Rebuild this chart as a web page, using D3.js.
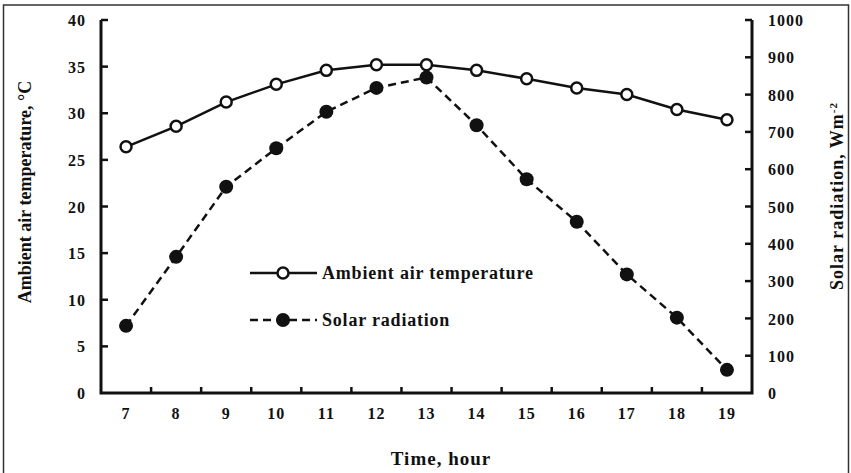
<!DOCTYPE html>
<html>
<head>
<meta charset="utf-8">
<script src="https://cdn.jsdelivr.net/npm/d3@7"></script>
<style>
  body { margin: 0; background: #fff; }
  text { font-family: "Liberation Serif", "Times New Roman", serif; font-weight: bold; fill: #111; }
</style>
</head>
<body>
<svg width="851" height="473"></svg>
<script>
const hours = ['7','8','9','10','11','12','13','14','15','16','17','18','19'];
const temperature = [26.4, 28.6, 31.2, 33.1, 34.6, 35.2, 35.2, 34.6, 33.7, 32.7, 32.0, 30.4, 29.3];
const radiation = [180, 365, 553, 656, 754, 818, 846, 718, 573, 459, 318, 202, 62];
const tempTicks = [0, 5, 10, 15, 20, 25, 30, 35, 40];
const radTicks = [0, 100, 200, 300, 400, 500, 600, 700, 800, 900, 1000];

const svg = d3.select('svg');
const plotL = 101, plotR = 752, plotT = 20, plotB = 393;
const ink = '#111';

// outer frame
svg.append('rect')
    .attr('x', 3.5).attr('y', 5).attr('width', 845).attr('height', 475)
    .attr('fill', 'none').attr('stroke', '#333').attr('stroke-width', 1.5);

const x = d3.scaleBand().domain(hours).range([plotL, plotR]);
const yT = d3.scaleLinear().domain([0, 40]).range([plotB, plotT]);
const yR = d3.scaleLinear().domain([0, 1000]).range([plotB, plotT]);

const styleAxis = g => {
    g.select('.domain').remove();
    g.selectAll('.tick line').remove();
    g.selectAll('.tick text').style('font-size', '16px').style('letter-spacing', '1px');
};

// left axis labels
svg.append('g')
    .attr('transform', `translate(${plotL},0)`)
    .call(d3.axisLeft(yT).tickValues(tempTicks).tickSize(0).tickPadding(15))
    .call(styleAxis)
    .call(g => g.selectAll('.tick text').attr('dy', '0.35em'));

// right axis labels
svg.append('g')
    .attr('transform', `translate(${plotR},0)`)
    .call(d3.axisRight(yR).tickValues(radTicks).tickFormat(d3.format('d')).tickSize(0).tickPadding(16))
    .call(styleAxis)
    .call(g => g.selectAll('.tick text').attr('dy', '0.35em'));

// bottom axis labels
svg.append('g')
    .attr('transform', `translate(0,${plotB})`)
    .call(d3.axisBottom(x).tickSize(0).tickPadding(15))
    .call(styleAxis);

// frame lines (left, right, bottom) and inward ticks
svg.append('path')
    .attr('fill', 'none').attr('stroke', ink).attr('stroke-width', 3)
    .attr('d', `M${plotL},${plotT}V${plotB}H${plotR}V${plotT}`);

svg.selectAll('line.lt').data(tempTicks.filter(d => d > 0))
    .enter().append('line').attr('class', 'lt')
    .attr('stroke', ink).attr('stroke-width', 2.5)
    .attr('x1', plotL).attr('x2', plotL + 7)
    .attr('y1', d => yT(d)).attr('y2', d => yT(d));

svg.selectAll('line.rt').data(radTicks.filter(d => d > 0))
    .enter().append('line').attr('class', 'rt')
    .attr('stroke', ink).attr('stroke-width', 2.5)
    .attr('x1', plotR).attr('x2', plotR - 7)
    .attr('y1', d => yR(d)).attr('y2', d => yR(d));

svg.selectAll('line.bt').data(hours.slice(1))
    .enter().append('line').attr('class', 'bt')
    .attr('stroke', ink).attr('stroke-width', 2.5)
    .attr('x1', d => x(d)).attr('x2', d => x(d))
    .attr('y1', plotB).attr('y2', plotB - 6);

const cx = d => x(d) + x.bandwidth() / 2;

// temperature series
svg.append('path')
    .datum(temperature)
    .attr('fill', 'none').attr('stroke', ink).attr('stroke-width', 2.5)
    .attr('d', d3.line().x((d, i) => cx(hours[i])).y(d => yT(d)));

// radiation series
svg.append('path')
    .datum(radiation)
    .attr('fill', 'none').attr('stroke', ink).attr('stroke-width', 2.5)
    .attr('stroke-dasharray', '8,5')
    .attr('d', d3.line().x((d, i) => cx(hours[i])).y(d => yR(d)));

svg.selectAll('circle.temp').data(temperature)
    .enter().append('circle').attr('class', 'temp')
    .attr('cx', (d, i) => cx(hours[i])).attr('cy', d => yT(d)).attr('r', 5.5)
    .attr('fill', '#fff').attr('stroke', ink).attr('stroke-width', 2.5);

svg.selectAll('circle.rad').data(radiation)
    .enter().append('circle').attr('class', 'rad')
    .attr('cx', (d, i) => cx(hours[i])).attr('cy', d => yR(d)).attr('r', 7)
    .attr('fill', ink);

// legend
const legend = svg.append('g');
legend.append('line').attr('x1', 250).attr('x2', 317).attr('y1', 273).attr('y2', 273)
    .attr('stroke', ink).attr('stroke-width', 2.5);
legend.append('circle').attr('cx', 283).attr('cy', 273).attr('r', 5.5)
    .attr('fill', '#fff').attr('stroke', ink).attr('stroke-width', 2.5);
legend.append('text').attr('x', 322).attr('y', 279)
    .style('font-size', '18px').style('letter-spacing', '0.8px')
    .text('Ambient air temperature');
legend.append('line').attr('x1', 250).attr('x2', 317).attr('y1', 320).attr('y2', 320)
    .attr('stroke', ink).attr('stroke-width', 2.5).attr('stroke-dasharray', '8,5');
legend.append('circle').attr('cx', 283).attr('cy', 320).attr('r', 7).attr('fill', ink);
legend.append('text').attr('x', 322).attr('y', 326)
    .style('font-size', '18px').style('letter-spacing', '0.8px')
    .text('Solar radiation');

// axis titles
svg.append('text')
    .attr('transform', 'translate(31,192) rotate(-90)')
    .attr('text-anchor', 'middle')
    .style('font-size', '18px')
    .text('Ambient air temperature, °C');

const rt = svg.append('text')
    .attr('transform', 'translate(843,196) rotate(-90)')
    .attr('text-anchor', 'middle')
    .style('font-size', '18px').style('letter-spacing', '1px');
rt.append('tspan').text('Solar radiation, Wm');
rt.append('tspan').attr('baseline-shift', 'super').style('font-size', '11px').text('-2');

svg.append('text')
    .attr('x', 441).attr('y', 465)
    .attr('text-anchor', 'middle')
    .style('font-size', '19px').style('letter-spacing', '1px')
    .text('Time, hour');
</script>
</body>
</html>
